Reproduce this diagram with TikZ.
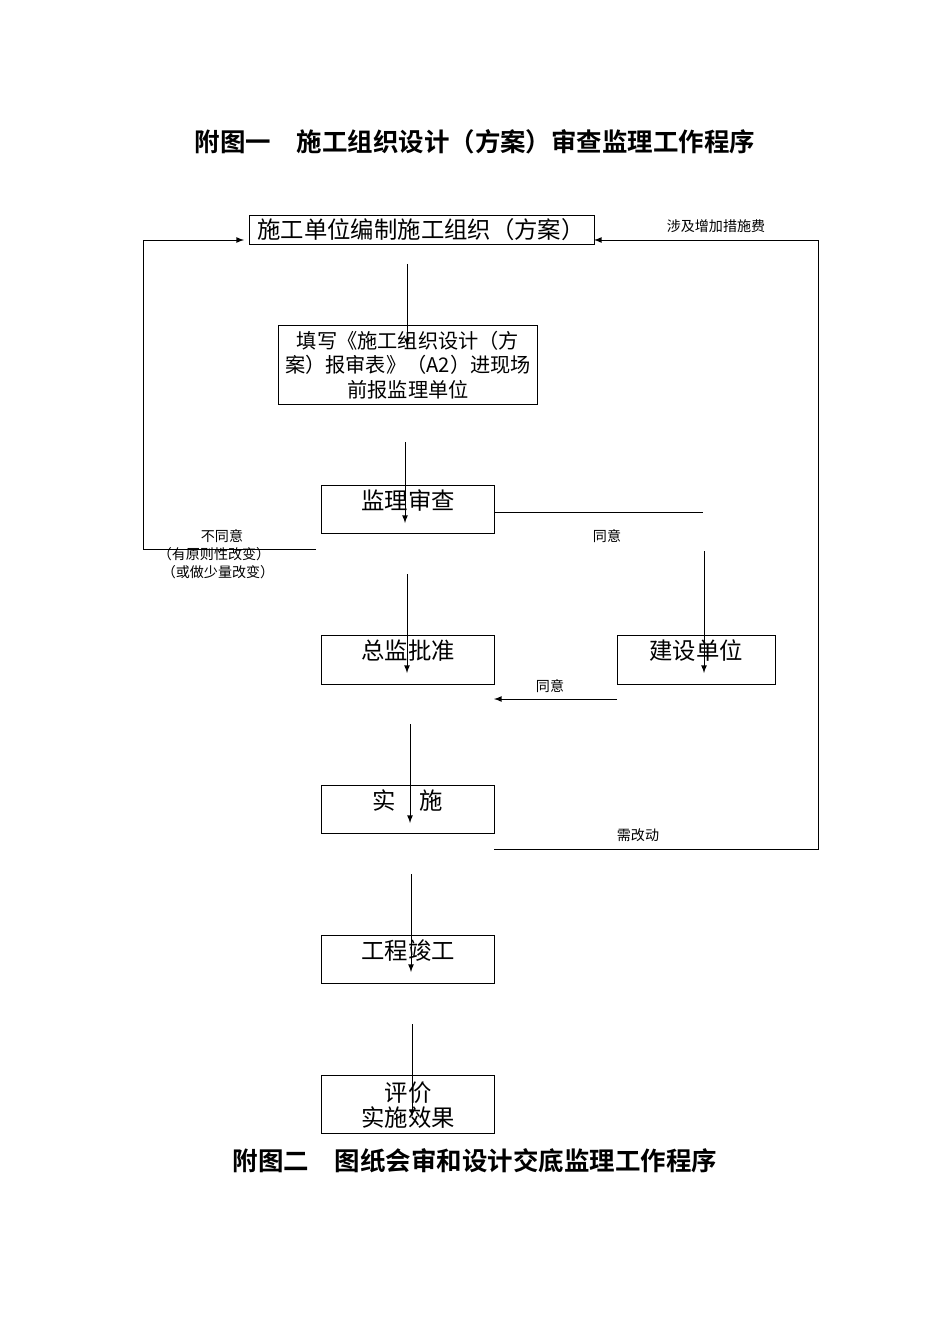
\documentclass[tikz,border=0pt]{standalone}
\usepackage{fontspec}
\setmainfont{Liberation Serif}
\newfontfamily\cjk{Noto Sans CJK SC}
\newfontfamily\cjkb{Noto Sans CJK SC Bold}
\begin{document}
\begin{tikzpicture}[x=0.02cm,y=-0.02cm,
  bx/.style={draw,line width=0.5pt,inner sep=0pt,anchor=north west},
  bt/.style={font=\cjk\fontsize{13.3}{14}\selectfont,align=center},
  sm/.style={font=\cjk\fontsize{8}{9.5}\selectfont,align=center},
  ttl/.style={font=\cjkb\fontsize{14.5}{16}\selectfont},
  ar/.style={-latex,line width=0.5pt},
  ln/.style={line width=0.5pt}]
\useasboundingbox (0,0) rectangle (950,1344);
\node[ttl] (t1) at (475,142) {附图一\quad 施工组织设计（方案）审查监理工作程序};
\node[ttl] (t2) at (475,1161) {附图二\quad 图纸会审和设计交底监理工作程序};
\draw[ln] (249,215) rectangle (594,244);
\node[bt] (b1) at (421,230) {施工单位编制施工组织（方案）};
\draw[ln] (278,325) rectangle (537,404);
\node[bt,font=\cjk\fontsize{11.5}{14}\selectfont] (b2) at (408,365) {填写《施工组织设计（方\\案）报审表》（A2）进现场\\前报监理单位};
\draw[ln] (321,485) rectangle (494,533);
\node[bt] (b3) at (408,501) {监理审查};
\draw[ln] (617,635) rectangle (775,684);
\node[bt] (b4) at (696,651) {建设单位};
\draw[ln] (321,635) rectangle (494,684);
\node[bt] (b5) at (408,651) {总监批准};
\draw[ln] (321,785) rectangle (494,833);
\node[bt] (b6) at (408,801) {实\quad 施};
\draw[ln] (321,935) rectangle (494,983);
\node[bt] (b7) at (408,951) {工程竣工};
\draw[ln] (321,1075) rectangle (494,1133);
\node[bt] (b8) at (408,1105) {评价\\实施效果};
\coordinate (a1s) at (407,264); \coordinate (a1e) at (407,346);
\draw[ar] (a1s) -- (a1e);
\coordinate (a2s) at (405,442); \coordinate (a2e) at (405,523);
\draw[ar] (a2s) -- (a2e);
\coordinate (a3s) at (407,574); \coordinate (a3e) at (407,673);
\draw[ar] (a3s) -- (a3e);
\coordinate (a4s) at (410,724); \coordinate (a4e) at (410,823);
\draw[ar] (a4s) -- (a4e);
\coordinate (a5s) at (411,874); \coordinate (a5e) at (411,972);
\draw[ar] (a5s) -- (a5e);
\coordinate (a6s) at (412,1024); \coordinate (a6e) at (412,1117);
\draw[ar] (a6s) -- (a6e);
\coordinate (r1) at (494,512); \coordinate (r2) at (703,512);
\draw[ln] (r1) -- (r2);
\coordinate (r3) at (704,551); \coordinate (r4) at (704,673);
\draw[ar] (r3) -- (r4);
\coordinate (c1) at (617,699); \coordinate (c2) at (494,699);
\draw[ar] (c1) -- (c2);
\coordinate (l1) at (316,549); \coordinate (l2) at (244,240);
\draw[ar] (l1) -- (143,549) -- (143,240) -- (l2);
\coordinate (n1) at (494,849); \coordinate (n2) at (594,240);
\draw[ar] (n1) -- (818,849) -- (818,240) -- (n2);
\node[sm] (s1) at (716,226) {涉及增加措施费};
\node[sm] (s2) at (607,536) {同意};
\node[sm] (s3) at (550,686) {同意};
\node[sm] (s4) at (638,835) {需改动};
\node[sm] (s5) at (222,536) {不同意};
\node[sm] (s6) at (214,554) {（有原则性改变）};
\node[sm] (s7) at (218,572) {（或做少量改变）};
\end{tikzpicture}
\end{document}
